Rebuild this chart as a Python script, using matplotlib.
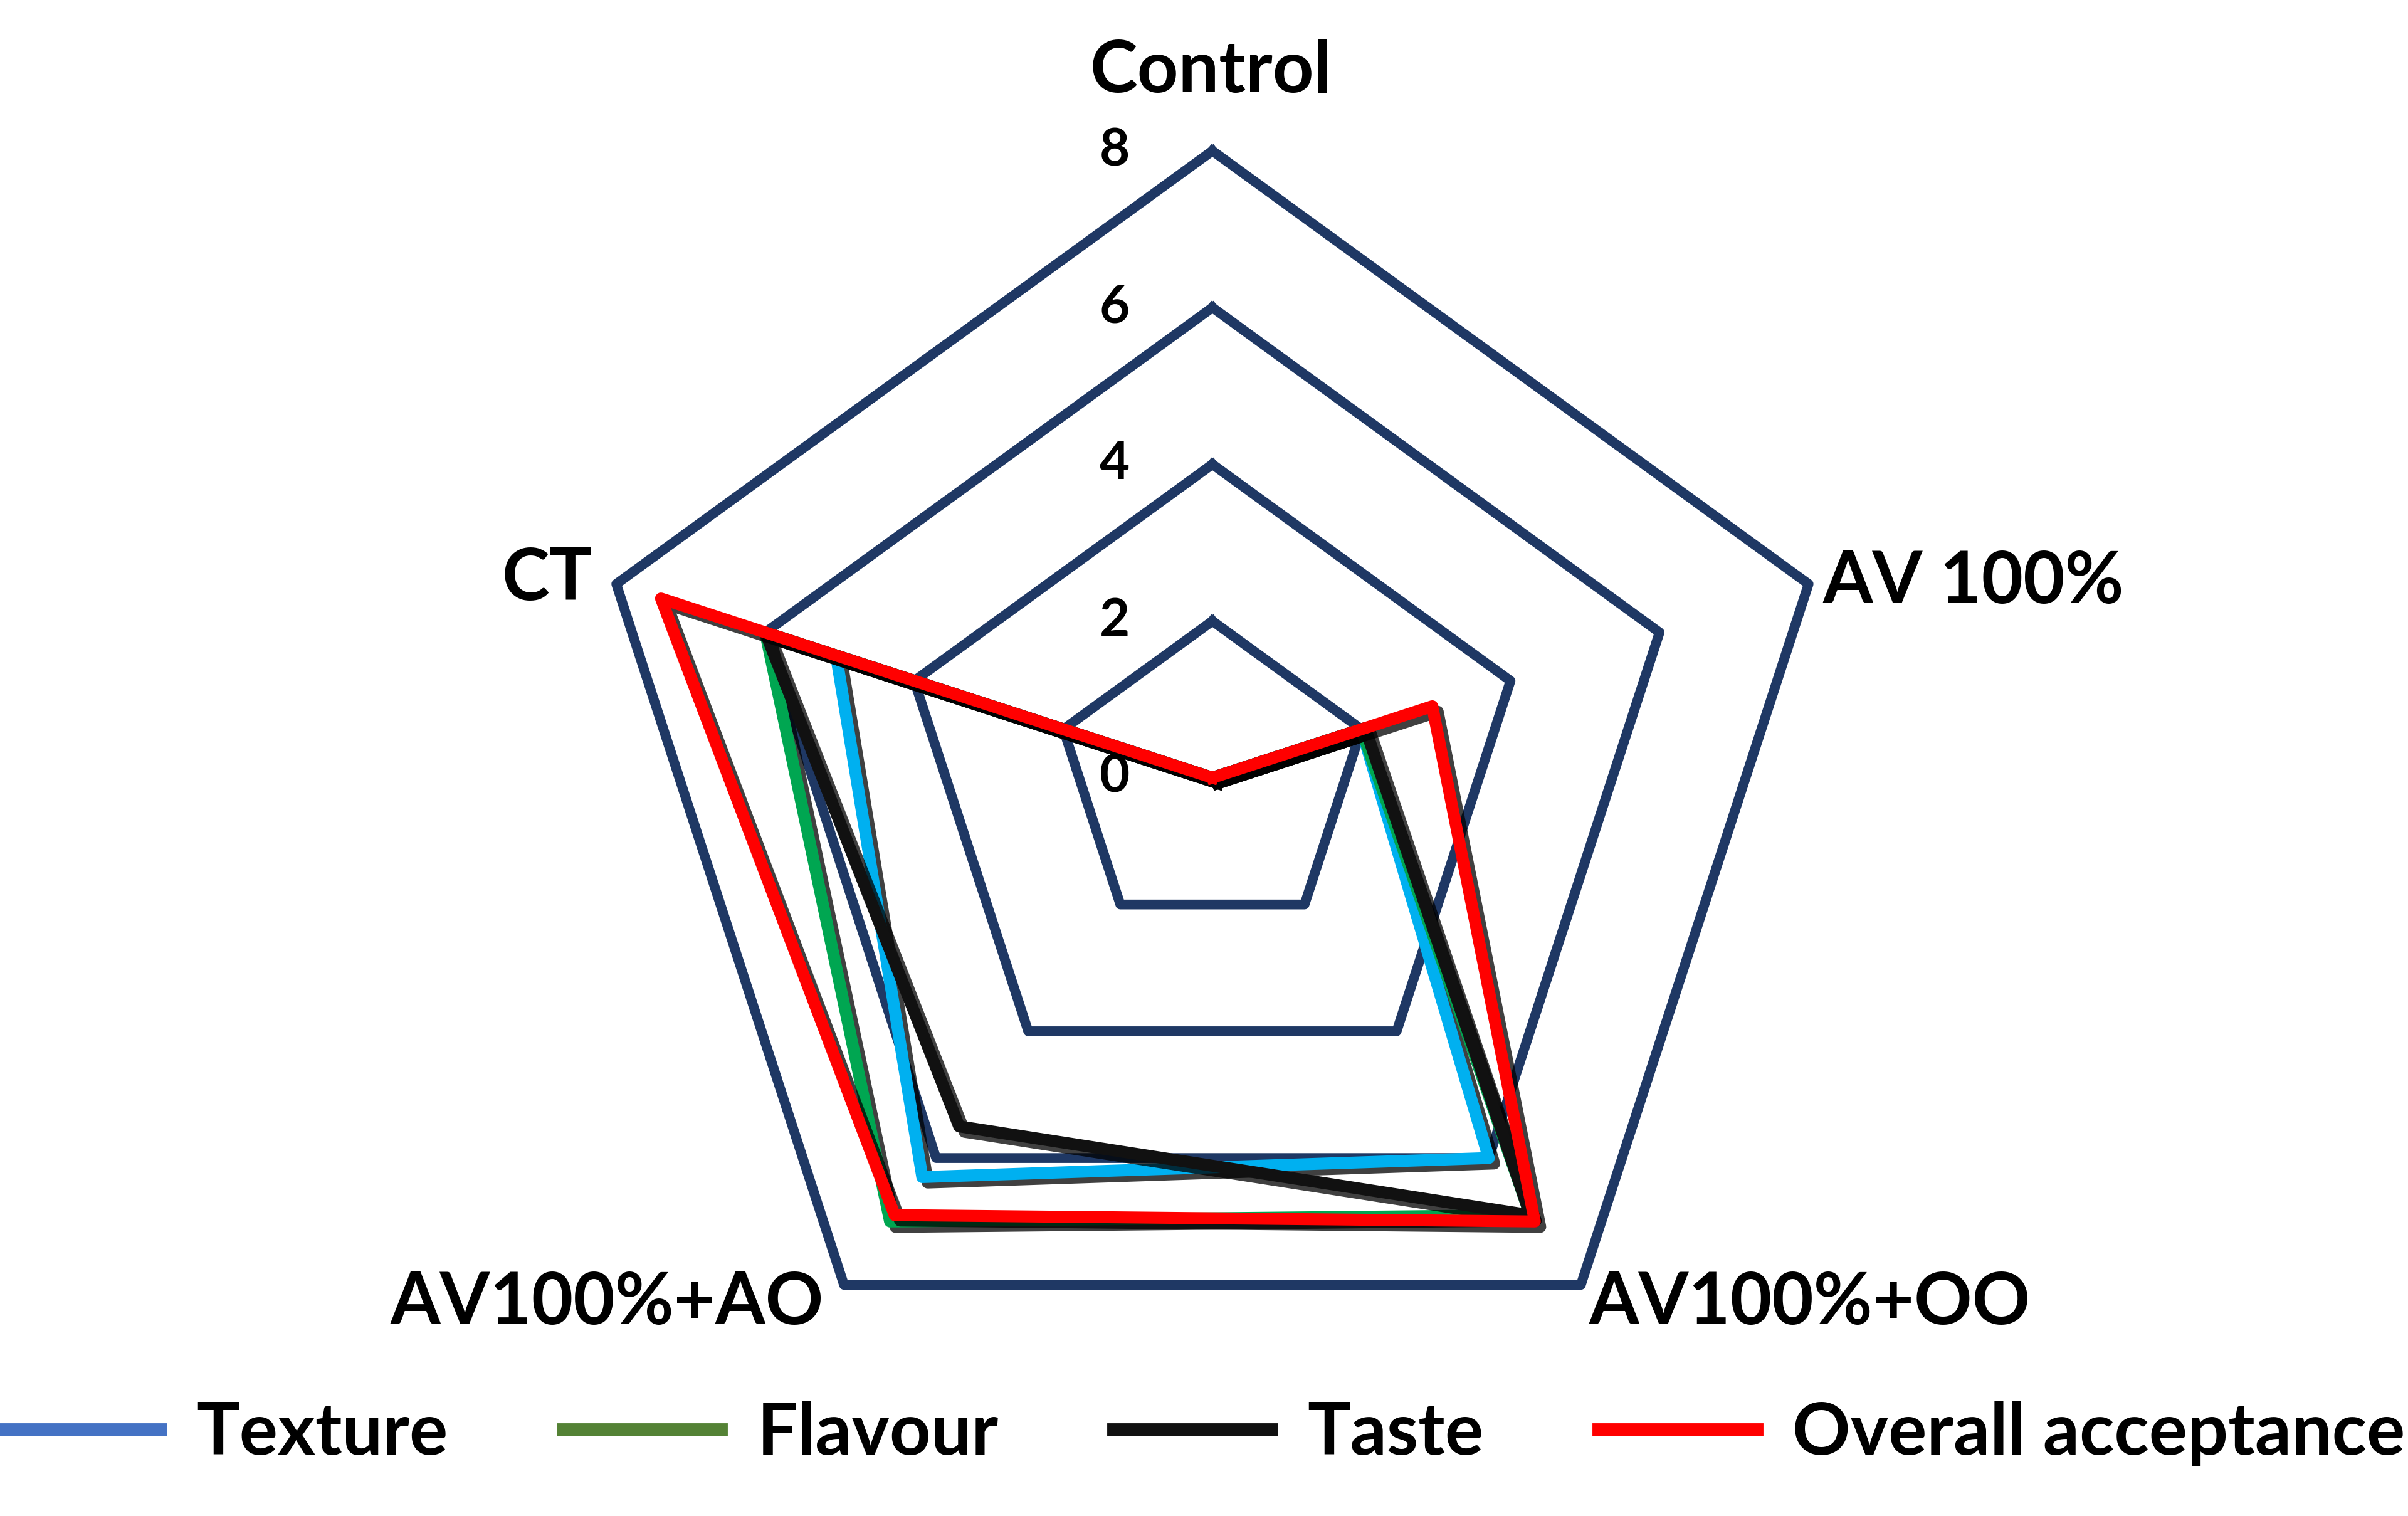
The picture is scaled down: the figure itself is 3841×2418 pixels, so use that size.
import numpy as np
import matplotlib
matplotlib.use("Agg")
import matplotlib.pyplot as plt
import matplotlib.patheffects as pe
from matplotlib.lines import Line2D

plt.rcParams['font.family'] = ['Lato', 'DejaVu Sans']
plt.rcParams['font.weight'] = 'bold'

# === Data ===
categories = ["Control", "AV 100%", "AV100%+OO", "AV100%+AO", "CT"]
texture = [0.0, 2.0, 6.0, 6.3, 5.05]
flavour = [0.0, 2.0, 6.9, 7.0, 6.0]
taste = [0.0, 2.05, 6.9, 5.5, 6.0]
overall = [0.0, 2.95, 7.0, 6.9, 7.4]
rings = [2, 4, 6, 8]
ring_labels = ["0", "2", "4", "6", "8"]

series = [
    ("Texture", texture, "#00B0F0", "#4472C4"),
    ("Flavour", flavour, "#00A651", "#548235"),
    ("Taste", taste, "#111111", "#111111"),
    ("Overall acceptance", overall, "#FF0000", "#FF0000"),
]

n = len(categories)
theta = np.linspace(0, 2 * np.pi, n, endpoint=False)
theta_c = np.append(theta, theta[0])

fig = plt.figure(figsize=(15.364, 9.672), dpi=250)
ax = fig.add_axes([0.243, 0.0735, 0.521, 0.827], projection="polar")
ax.set_theta_offset(np.pi / 2)
ax.set_theta_direction(-1)
ax.set_ylim(0, 8)
ax.grid(False)
ax.spines["polar"].set_visible(False)
ax.set_xticks([]); ax.set_yticks([])
ax.patch.set_alpha(0)

# pentagon grid
for r in rings:
    ax.plot(theta_c, [r] * (n + 1), color="#1F3864", lw=4.5, clip_on=False, zorder=1)

for name, vals, col, _ in series:
    v = np.append(vals, vals[0])
    line, = ax.plot(theta_c, v, color=col, lw=5.5, clip_on=False, zorder=3)
    line.set_path_effects([pe.SimpleLineShadow(offset=(2.5, -2.5), shadow_color="black", alpha=0.75), pe.Normal()])

# radial tick labels
for i, lab in enumerate(ring_labels):
    ax.annotate(lab, xy=(0, i * 2), xytext=(-45, 0), textcoords="offset points",
                ha="center", va="center", fontsize=24, fontweight="bold")

# category labels
fs = 33
fig.text(0.503, 0.953, categories[0], ha="center", va="center", fontsize=fs, fontweight="bold")
fig.text(0.757, 0.616, categories[1], ha="left", va="center", fontsize=fs, fontweight="bold")
fig.text(0.660, 0.140, categories[2], ha="left", va="center", fontsize=fs, fontweight="bold")
fig.text(0.342, 0.140, categories[3], ha="right", va="center", fontsize=fs, fontweight="bold")
fig.text(0.246, 0.618, categories[4], ha="right", va="center", fontsize=fs, fontweight="bold")

handles = [Line2D([0], [0], color=lc, lw=6) for _, _, _, lc in series]
fig.legend(handles, [s[0] for s in series], loc="lower center", bbox_to_anchor=(0.5, -0.01),
           ncol=4, frameon=False, handlelength=2.2, handletextpad=0.5,
           columnspacing=1.6, prop={"weight": "bold", "size": 33})

fig.savefig("out.png", dpi=250)
